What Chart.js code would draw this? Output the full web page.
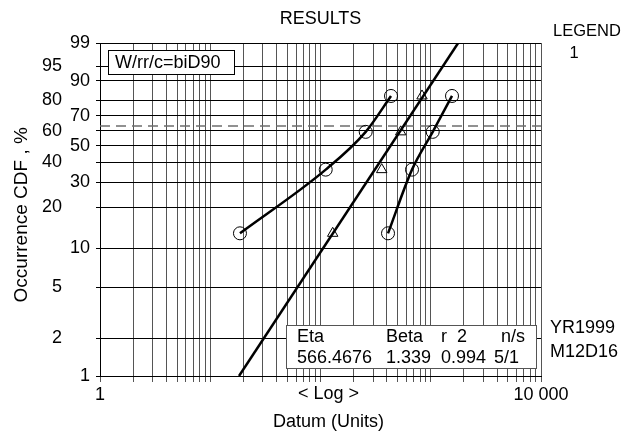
<!DOCTYPE html>
<html>
<head>
<meta charset="utf-8">
<script src="https://cdn.jsdelivr.net/npm/chart.js@4"></script>
<style>
  body { margin: 0; background: #fff; }
  canvas { display: block; }
</style>
</head>
<body>
<canvas id="weibull" width="621" height="433"></canvas>
<script>
// percent ticks on the probability axis
var yTickPercents = [1, 2, 5, 10, 20, 30, 40, 50, 60, 70, 80, 90, 95, 99];
var innerLabels = [1, 10, 30, 50, 70, 90, 99];
var outerLabels = [2, 5, 20, 40, 60, 80, 95];

// x axis labels
var xLabelValues = [1, 10000];
var xLabelTexts = ['1', '10 000'];

// occurrence ranks (%) shared by the point groups
var rankPercents = [12.96, 36.11, 59.26, 82.41];
var groupA = [18.6, 111.5, 257, 436];
var groupB = [409.6, 676, 1042, 1559];
var groupTri = [129, 359, 534, 833];

// fitted line end points
var fitX = [18.24, 1772];
var fitPct = [1, 99];

var refPct = 63.2;

var statHeaders = ['Eta', 'Beta', 'r  2', 'n/s'];
var statValues = ['566.4676', '1.339', '0.994', '5/1'];

// weibull probability transform
function w(p) {
    return Math.log(-Math.log(1 - p / 100));
}

function pts(xs, ps) {
    return xs.map(function (x, i) { return { x: x, y: w(ps[i]) }; });
}

var xGrid = [];
for (var k = 0; k < 4; k++) {
    for (var m = 1; m < 10; m++) xGrid.push(m * Math.pow(10, k));
}
xGrid.push(10000);

var FONT = 'Liberation Sans, Arial, Helvetica, sans-serif';
Chart.defaults.font.family = FONT;
Chart.defaults.font.size = 18;
Chart.defaults.color = '#000';

var notes = {
    id: 'notes',
    afterDraw: function (chart) {
        var ctx = chart.ctx;
        ctx.save();
        ctx.fillStyle = '#000';
        ctx.textBaseline = 'middle';

        ctx.font = '18px ' + FONT;
        ctx.textAlign = 'center';
        ctx.fillText('RESULTS', 320.5, 19);
        ctx.fillText('< Log >', 328.5, 394.5);
        ctx.fillText('Datum (Units)', 328.5, 422);

        ctx.font = '16.5px ' + FONT;
        ctx.textAlign = 'left';
        ctx.fillText('LEGEND', 553, 31);
        ctx.textAlign = 'center';
        ctx.fillText('1', 574, 53);

        ctx.font = '18px ' + FONT;
        ctx.textAlign = 'left';
        ctx.fillText('YR1999', 550, 328);
        ctx.fillText('M12D16', 550, 352);

        // method box
        ctx.fillStyle = '#fff';
        ctx.fillRect(108.5, 50.5, 126, 24);
        ctx.strokeStyle = '#000';
        ctx.lineWidth = 1;
        ctx.strokeRect(108.5, 50.5, 126, 24);
        ctx.fillStyle = '#000';
        ctx.fillText('W/rr/c=biD90', 115, 63);

        // stats box
        ctx.fillStyle = '#fff';
        ctx.fillRect(286.5, 325.5, 250, 43);
        ctx.strokeStyle = '#555';
        ctx.strokeRect(286.5, 325.5, 250, 43);
        ctx.fillStyle = '#000';
        var hx = [297, 386, 441, 501];
        var vx = [297, 386, 441, 494];
        for (var i = 0; i < statHeaders.length; i++) {
            ctx.fillText(statHeaders[i], hx[i], 337);
            ctx.fillText(statValues[i], vx[i], 358);
        }
        ctx.restore();
    }
};

var ctx = document.getElementById('weibull').getContext('2d');

var chart = new Chart(ctx, {
    type: 'scatter',
    data: {
        datasets: [{
            data: pts(fitX, fitPct),
            showLine: true,
            borderColor: '#000',
            borderWidth: 2.5,
            pointRadius: 0
        }, {
            data: pts(groupA, rankPercents),
            showLine: true,
            cubicInterpolationMode: 'monotone',
            borderColor: '#000',
            borderWidth: 2.5,
            pointStyle: 'circle',
            pointRadius: 6.5,
            pointBorderWidth: 1,
            pointBorderColor: '#000',
            pointBackgroundColor: 'rgba(0,0,0,0)'
        }, {
            data: pts(groupB, rankPercents),
            showLine: true,
            cubicInterpolationMode: 'monotone',
            borderColor: '#000',
            borderWidth: 2.5,
            pointStyle: 'circle',
            pointRadius: 6.5,
            pointBorderWidth: 1,
            pointBorderColor: '#000',
            pointBackgroundColor: 'rgba(0,0,0,0)'
        }, {
            data: pts(groupTri, rankPercents),
            showLine: false,
            pointStyle: 'triangle',
            pointRadius: 6,
            pointBorderWidth: 1,
            pointBorderColor: '#000',
            pointBackgroundColor: 'rgba(0,0,0,0)'
        }, {
            data: pts([1, 10000], [refPct, refPct]),
            showLine: true,
            borderColor: '#6e6e6e',
            borderWidth: 1.5,
            borderDash: [10, 6],
            pointRadius: 0
        }]
    },
    options: {
        responsive: false,
        animation: false,
        layout: { padding: { top: 43, right: 80, bottom: 0, left: 0 } },
        plugins: {
            legend: { display: false },
            tooltip: { enabled: false }
        },
        scales: {
            x: {
                type: 'logarithmic',
                min: 1,
                max: 10000,
                afterBuildTicks: function (s) {
                    s.ticks = xGrid.map(function (v) { return { value: v }; });
                },
                afterFit: function (s) { s.height = 57; },
                grid: { color: '#555', lineWidth: 1, tickLength: 6 },
                border: { color: '#000' },
                ticks: {
                    autoSkip: false,
                    maxRotation: 0,
                    padding: 2,
                    callback: function (v) {
                        var i = xLabelValues.indexOf(v);
                        return i >= 0 ? xLabelTexts[i] : '';
                    }
                }
            },
            y: {
                type: 'linear',
                position: 'left',
                weight: 0,
                min: w(1),
                max: w(99),
                afterBuildTicks: function (s) {
                    s.ticks = yTickPercents.map(function (p) { return { value: w(p) }; });
                },
                afterFit: function (s) { s.width = 38; },
                grid: { color: '#000', lineWidth: 1, tickLength: 4 },
                border: { color: '#000' },
                ticks: {
                    autoSkip: false,
                    padding: 6,
                    callback: function (v, i) {
                        var p = yTickPercents[i];
                        return innerLabels.indexOf(p) >= 0 ? String(p) : '';
                    }
                }
            },
            y2: {
                type: 'linear',
                position: 'left',
                weight: 1,
                min: w(1),
                max: w(99),
                afterBuildTicks: function (s) {
                    s.ticks = yTickPercents.map(function (p) { return { value: w(p) }; });
                },
                afterFit: function (s) { s.width = 62; },
                grid: { display: false, drawTicks: false },
                border: { display: false },
                title: {
                    display: true,
                    text: 'Occurrence CDF , %\u00a0\u00a0',
                    font: { size: 19 },
                    padding: { top: 10, bottom: 0 }
                },
                ticks: {
                    autoSkip: false,
                    padding: 0,
                    callback: function (v, i) {
                        var p = yTickPercents[i];
                        return outerLabels.indexOf(p) >= 0 ? String(p) : '';
                    }
                }
            }
        }
    },
    plugins: [notes]
});
</script>
</body>
</html>
